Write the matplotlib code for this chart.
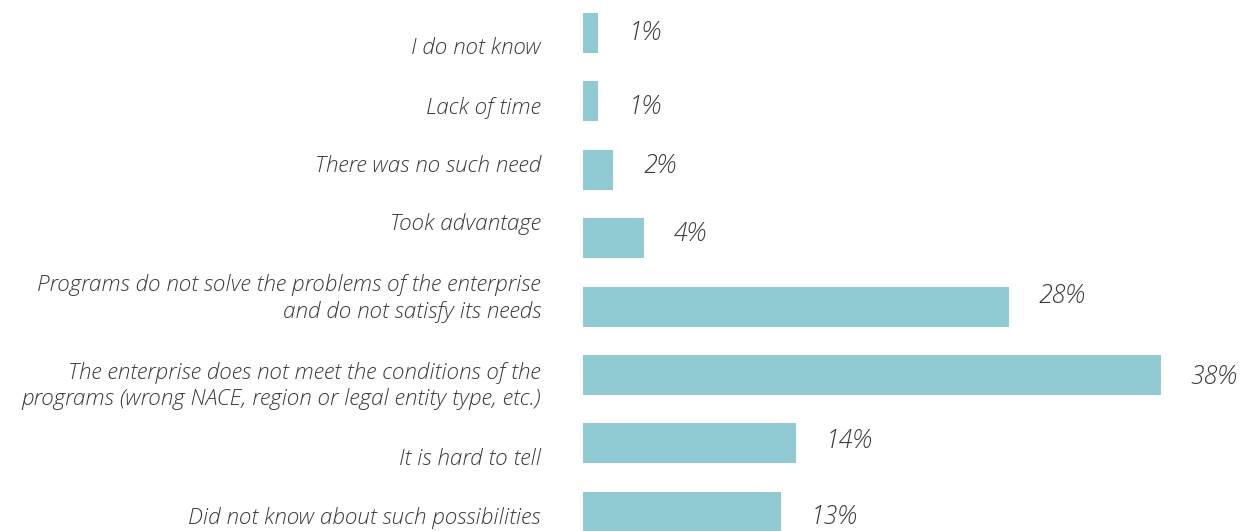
import matplotlib.pyplot as plt

categories = [
    "I do not know",
    "Lack of time",
    "There was no such need",
    "Took advantage",
    "Programs do not solve the problems of the enterprise\nand do not satisfy its needs",
    "The enterprise does not meet the conditions of the\nprograms (wrong NACE, region or legal entity type, etc.)",
    "It is hard to tell",
    "Did not know about such possibilities",
]
values = [1, 1, 2, 4, 28, 38, 14, 13]

# small vertical nudges (pixels, down = positive) of the texts as in the original layout
label_shift = [15, 7, -4, -14, -8, 11, 16, 6]
value_shift = [0, 6, -3, -4, -10, 3, -2, 6]

bar_color = "#8fcad3"
text_color = "#3a3a3a"
plt.rcParams['font.family'] = ['Open Sans', 'DejaVu Sans']

fig = plt.figure(figsize=(12.43, 5.31), dpi=100)
ax = fig.add_axes([583 / 1243, 0, 1 - 583 / 1243, 1])

ypos = list(range(len(values)))
ax.barh(ypos, values, height=0.585, color=bar_color)

ax.set_xlim(0, (1243 - 583) / 15.2)
ax.set_ylim((531 - 33) / 68.4, -33 / 68.4)
ax.axis("off")

for y, v, lab, ls, vs in zip(ypos, values, categories, label_shift, value_shift):
    ax.annotate(f"{v}%", (v, y), xytext=(30, -vs), textcoords="offset pixels",
                ha="left", va="center", fontsize=18, style="italic",
                fontweight="light", color=text_color)
    ax.annotate(lab, (0, y), xytext=(-42, -ls), textcoords="offset pixels",
                ha="right", va="center", fontsize=16.2, style="italic",
                fontweight="light", color=text_color, linespacing=1.25,
                annotation_clip=False)

fig.savefig("out.png", dpi=100)
